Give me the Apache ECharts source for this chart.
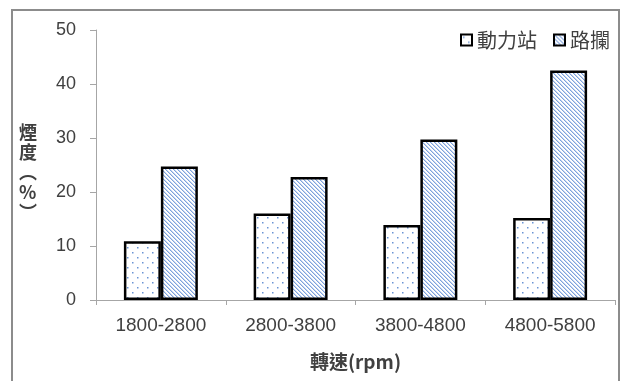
<!DOCTYPE html>
<html>
<head>
<meta charset="utf-8">
<script src="https://cdn.jsdelivr.net/npm/echarts@6/dist/echarts.min.js"></script>
<style>
html,body{margin:0;padding:0;background:#fff;}
#chart{width:628px;height:381px;}
</style>
</head>
<body>
<div id="chart"></div>
<script>
var categories = ['1800-2800', '2800-3800', '3800-4800', '4800-5800'];
var stationValues = [10.9, 16.0, 13.9, 15.2];
var barrierValues = [24.7, 22.8, 29.7, 42.5];
var seriesNames = ['動力站', '路攔'];
var yTicks = [0, 10, 20, 30, 40, 50];
var xTitle = '轉速(rpm)';
var yTitle = '煙\n度\n︵\n%\n︶';

var FONT = "'Liberation Sans', 'Noto Sans CJK TC', sans-serif";
var CJK = "'Noto Sans CJK TC', 'Liberation Sans', sans-serif";
var TEXT = '#404040';

function dotPattern() {
  var c = document.createElement('canvas');
  c.width = 10; c.height = 10;
  var g = c.getContext('2d');
  g.fillStyle = '#ffffff'; g.fillRect(0, 0, 10, 10);
  g.fillStyle = '#6a93d4';
  g.fillRect(2, 2, 1.5, 1.5);
  g.fillRect(7, 7, 1.5, 1.5);
  return c;
}
function hatchPattern() {
  var c = document.createElement('canvas');
  c.width = 4; c.height = 4;
  var g = c.getContext('2d');
  g.fillStyle = '#ffffff'; g.fillRect(0, 0, 4, 4);
  for (var i = 0; i < 4; i++) {
    g.fillStyle = '#7ea2dc';
    g.fillRect(i, i, 1, 1);
    g.fillStyle = '#c6d6f0';
    g.fillRect((i + 1) % 4, i, 1, 1);
  }
  return c;
}

var chart = echarts.init(document.getElementById('chart'), null, {renderer: 'canvas'});
chart.setOption({
  animation: false,
  backgroundColor: '#ffffff',
  graphic: [
    {type: 'rect', shape: {x: 12, y: 10, width: 607, height: 420},
     style: {fill: 'none', stroke: '#8c8c8c', lineWidth: 2}, silent: true},
    {type: 'text', left: 19, top: 122,
     style: {text: yTitle, font: 'bold 18px ' + CJK, fill: TEXT, align: 'center', lineHeight: 20}}
  ],
  legend: {
    data: seriesNames,
    right: 13, top: 25,
    icon: 'rect',
    itemWidth: 11, itemHeight: 11, itemGap: 16,
    textStyle: {fontSize: 20, fontFamily: CJK, color: TEXT}
  },
  grid: {left: 96, right: 13, top: 30, bottom: 81},
  xAxis: {
    type: 'category',
    data: categories,
    name: xTitle,
    nameLocation: 'middle',
    nameGap: 52,
    nameTextStyle: {fontSize: 19, fontWeight: 'bold', fontFamily: CJK, color: TEXT},
    axisLine: {lineStyle: {color: '#a6a6a6', width: 1}},
    axisTick: {show: true, length: 5, lineStyle: {color: '#a6a6a6'}},
    axisLabel: {fontSize: 19, fontFamily: FONT, color: TEXT, margin: 16}
  },
  yAxis: {
    type: 'value',
    min: yTicks[0], max: yTicks[yTicks.length - 1], interval: 10,
    splitLine: {show: false},
    axisLine: {show: true, lineStyle: {color: '#a6a6a6', width: 1}},
    axisTick: {show: true, length: 6, lineStyle: {color: '#a6a6a6'}},
    axisLabel: {fontSize: 18, fontFamily: FONT, color: TEXT, margin: 20}
  },
  series: [
    {
      name: seriesNames[0], type: 'bar', data: stationValues,
      barGap: '0%', barCategoryGap: '43%',
      itemStyle: {color: {image: dotPattern(), repeat: 'repeat'}, borderColor: '#000', borderWidth: 2.5}
    },
    {
      name: seriesNames[1], type: 'bar', data: barrierValues,
      barGap: '0%', barCategoryGap: '43%',
      itemStyle: {color: {image: hatchPattern(), repeat: 'repeat'}, borderColor: '#000', borderWidth: 2.5}
    }
  ]
});
</script>
</body>
</html>
